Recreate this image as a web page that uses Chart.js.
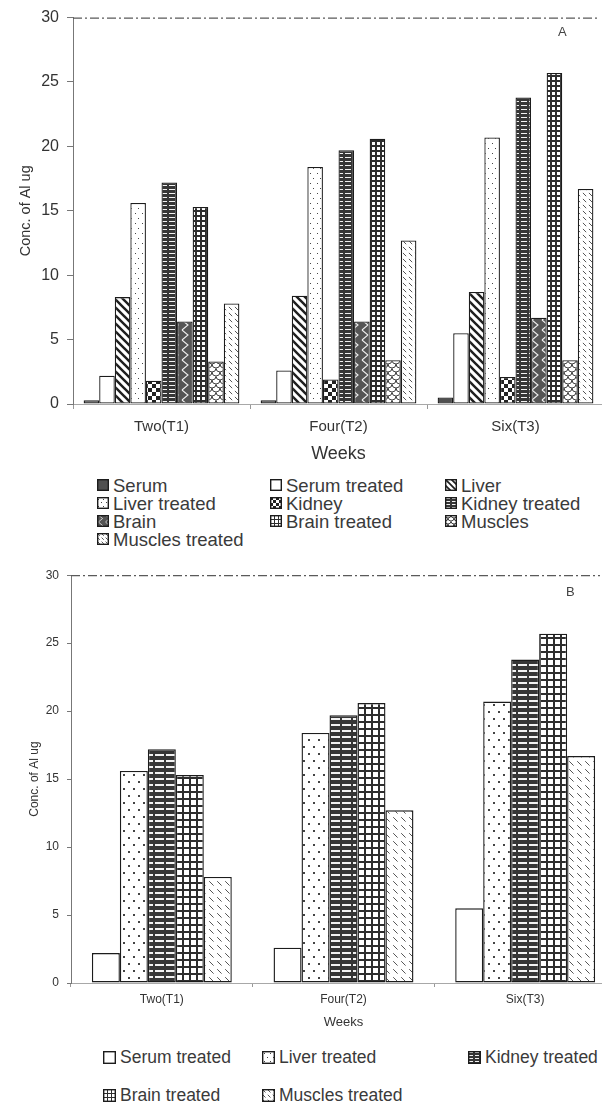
<!DOCTYPE html>
<html>
<head>
<meta charset="utf-8">
<script src="https://cdn.jsdelivr.net/npm/chart.js@4.4.0/dist/chart.umd.min.js"></script>
<style>
  html, body { margin: 0; padding: 0; background: #fff; overflow: hidden; width: 602px; height: 1115px; }
  #wrap { position: relative; width: 602px; height: 1115px; overflow: hidden;
          font-family: "Liberation Sans", Arial, sans-serif; color: #333; }
  .holder { position: absolute; left: 0; }
  .tag { position: absolute; font-size: 13px; color: #444; }
  .leg { position: absolute; white-space: nowrap; display: flex; align-items: center; color: #3a3a3a; }
  .leg canvas { display: block; margin-right: 4px; }
</style>
</head>
<body>
<div id="wrap">
  <div class="holder" style="top:0"><canvas id="chartA" width="606" height="470"></canvas></div>
  <div class="tag" style="left:558px;top:24px">A</div>
  <div id="legendA"></div>
  <div class="holder" style="top:560px"><canvas id="chartB" width="620" height="480"></canvas></div>
  <div class="tag" style="left:566px;top:584px">B</div>
  <div id="legendB"></div>
</div>
<script>
// Weeks of exposure
const weeks = ['Two(T1)', 'Four(T2)', 'Six(T3)'];

// Aluminium concentration (ug) per tissue, control and treated
const serum          = [0.3, 0.3, 0.5];
const serumTreated   = [2.2, 2.6, 5.5];
const liver          = [8.3, 8.4, 8.7];
const liverTreated   = [15.6, 18.4, 20.7];
const kidney         = [1.8, 1.9, 2.1];
const kidneyTreated  = [17.2, 19.7, 23.8];
const brain          = [6.4, 6.4, 6.7];
const brainTreated   = [15.3, 20.6, 25.7];
const muscles        = [3.3, 3.4, 3.4];
const musclesTreated = [7.8, 12.7, 16.7];

// Value axis
const yMin = 0, yMax = 30, yStep = 5;

// ---- fill patterns -------------------------------------------------------
function tile(w, h, draw) {
  const c = document.createElement('canvas');
  c.width = Math.max(1, Math.round(w));
  c.height = Math.max(1, Math.round(h));
  const g = c.getContext('2d');
  draw(g, c.width, c.height);
  return g.createPattern(c, 'repeat');
}

function makeFill(kind, s) {
  switch (kind) {
    case 'solid':
      return '#505050';
    case 'open':
      return '#ffffff';
    case 'diag':
      return tile(8 * s, 8 * s, (g, w, h) => {
        g.fillStyle = '#fff'; g.fillRect(0, 0, w, h);
        g.strokeStyle = '#1e1e1e'; g.lineWidth = 2.4 * s;
        for (let k = -1; k <= 1; k++) {
          g.beginPath(); g.moveTo(-1, k * h - 1); g.lineTo(w + 1, h + k * h + 1); g.stroke();
        }
      });
    case 'dots':
      return tile(7 * s, 10 * s, (g, w, h) => {
        g.fillStyle = '#fff'; g.fillRect(0, 0, w, h);
        g.fillStyle = '#444';
        const d = Math.max(1, Math.round(1.2 * s));
        g.fillRect(Math.round(w * 0.25), Math.round(h * 0.25), d, d);
        g.fillRect(Math.round(w * 0.75), Math.round(h * 0.75), d, d);
      });
    case 'checker':
      return tile(8 * s, 8 * s, (g, w, h) => {
        g.fillStyle = '#fff'; g.fillRect(0, 0, w, h);
        g.fillStyle = '#222';
        g.fillRect(0, 0, w / 2, h / 2); g.fillRect(w / 2, h / 2, w / 2, h / 2);
      });
    case 'hdash':
      return tile(8 * s, 4 * s, (g, w, h) => {
        g.fillStyle = '#363636'; g.fillRect(0, 0, w, h);
        g.fillStyle = '#f2f2f2';
        g.fillRect(1, Math.round(h / 2) - 1, w - 2, Math.max(1, Math.round(1.3 * s)));
      });
    case 'zigzag':
      return tile(10 * s, 10 * s, (g, w, h) => {
        g.fillStyle = '#555'; g.fillRect(0, 0, w, h);
        g.strokeStyle = '#f0f0f0'; g.lineWidth = 1.1 * s;
        g.beginPath(); g.moveTo(w * 0.2, 0); g.lineTo(w * 0.8, h * 0.5); g.lineTo(w * 0.2, h); g.stroke();
      });
    case 'grid':
      return tile(5 * s, 5 * s, (g, w, h) => {
        g.fillStyle = '#fff'; g.fillRect(0, 0, w, h);
        g.fillStyle = '#2e2e2e';
        const t = Math.max(1, Math.round(1.6 * s));
        g.fillRect(0, 0, w, t); g.fillRect(0, 0, t, h);
      });
    case 'scales':
      return tile(8 * s, 8 * s, (g, w, h) => {
        g.fillStyle = '#fff'; g.fillRect(0, 0, w, h);
        g.strokeStyle = '#444'; g.lineWidth = 1;
        g.beginPath(); g.arc(w / 2, 0, w / 2, 0, Math.PI); g.stroke();
        g.beginPath(); g.arc(0, h / 2, w / 2, 0, Math.PI); g.stroke();
        g.beginPath(); g.arc(w, h / 2, w / 2, 0, Math.PI); g.stroke();
      });
    case 'dash':
      return tile(6 * s, 6 * s, (g, w, h) => {
        g.fillStyle = '#fff'; g.fillRect(0, 0, w, h);
        g.strokeStyle = '#555'; g.lineWidth = 1;
        g.beginPath(); g.moveTo(w * 0.15, h * 0.15); g.lineTo(w * 0.7, h * 0.7); g.stroke();
      });
  }
}

// ---- series definitions --------------------------------------------------
const seriesAll = [
  { label: 'Serum',            data: serum,          fill: 'solid'   },
  { label: 'Serum treated',    data: serumTreated,   fill: 'open'    },
  { label: 'Liver',            data: liver,          fill: 'diag'    },
  { label: 'Liver treated',    data: liverTreated,   fill: 'dots'    },
  { label: 'Kidney',           data: kidney,         fill: 'checker' },
  { label: 'Kidney treated',   data: kidneyTreated,  fill: 'hdash'   },
  { label: 'Brain',            data: brain,          fill: 'zigzag'  },
  { label: 'Brain treated',    data: brainTreated,   fill: 'grid'    },
  { label: 'Muscles',          data: muscles,        fill: 'scales'  },
  { label: 'Muscles treated',  data: musclesTreated, fill: 'dash'    }
];
const seriesTreated = seriesAll.filter(d => d.label.endsWith('treated'));

// Dashed top edge of the plot frame
const frameTop = {
  id: 'frameTop',
  afterDraw(chart, args, opts) {
    const { ctx, chartArea } = chart;
    ctx.save();
    ctx.strokeStyle = opts.color;
    ctx.lineWidth = opts.width;
    ctx.setLineDash(opts.dash);
    ctx.beginPath();
    ctx.moveTo(chartArea.left, chartArea.top + 0.5);
    ctx.lineTo(Math.min(chartArea.right, 600), chartArea.top + 0.5);
    ctx.stroke();
    ctx.restore();
  }
};

function buildChart(id, series, cfg) {
  const datasets = series.map(d => ({
    label: d.label,
    data: d.data,
    backgroundColor: makeFill(d.fill, cfg.patScale),
    borderColor: '#1c1c1c',
    borderWidth: cfg.barBorder,
    borderSkipped: false,
    categoryPercentage: cfg.catPct,
    barPercentage: 1
  }));
  return new Chart(document.getElementById(id), {
    type: 'bar',
    data: { labels: weeks, datasets },
    plugins: [frameTop],
    options: {
      responsive: false,
      animation: false,
      events: [],
      layout: { padding: cfg.padding },
      plugins: {
        legend: { display: false },
        tooltip: { enabled: false },
        frameTop: { color: '#5a5a5a', width: 1.2, dash: [9, 3, 2, 3] }
      },
      scales: {
        x: {
          grid: { display: true, drawOnChartArea: false, offset: true, tickLength: cfg.xTick, color: '#999' },
          border: { color: '#a8a8a8', width: 1 },
          ticks: { color: '#333', font: { family: 'Liberation Sans', size: cfg.xTickFont }, padding: cfg.xTickPad, maxRotation: 0 },
          title: { display: true, text: 'Weeks', color: '#333',
                   font: { family: 'Liberation Sans', size: cfg.xTitleFont },
                   padding: { top: 0, bottom: cfg.xTitlePad } },
          afterFit: s => { s.height = cfg.xHeight; }
        },
        y: {
          min: yMin, max: yMax,
          grid: { display: true, drawOnChartArea: false, tickLength: cfg.yTick, color: '#777' },
          border: { color: '#777', width: 1, dash: [5, 2] },
          ticks: { stepSize: yStep, color: '#333', font: { family: 'Liberation Sans', size: cfg.yTickFont }, padding: cfg.yTickPad },
          title: { display: true, text: 'Conc. of Al ug', color: '#333',
                   font: { family: 'Liberation Sans', size: cfg.yTitleFont },
                   padding: { top: cfg.yTitlePad, bottom: 0 } },
          afterFit: s => { s.width = cfg.yWidth; }
        }
      }
    }
  });
}

const chartA = buildChart('chartA', seriesAll, {
  patScale: 1, barBorder: 1.3, catPct: 0.88,
  padding: { left: 10, top: 15, right: 2, bottom: 0 },
  xTick: 5, xTickFont: 15, xTickPad: 9, xTitleFont: 18, xTitlePad: 5, xHeight: 66,
  yTick: 6, yTickFont: 16, yTickPad: 8, yTitleFont: 14.5, yTitlePad: 7, yWidth: 63
});

const chartB = buildChart('chartB', seriesTreated, {
  patScale: 1.4, barBorder: 1.4, catPct: 0.77,
  padding: { left: 20, top: 15, right: 4, bottom: 0 },
  xTick: 4, xTickFont: 12, xTickPad: 5, xTitleFont: 13, xTitlePad: 10, xHeight: 57,
  yTick: 4, yTickFont: 12, yTickPad: 8, yTitleFont: 12, yTitlePad: 7, yWidth: 51
});

// ---- legends laid out in three columns -----------------------------------
function buildLegend(el, series, colX, rowY, font, box, patScale) {
  series.forEach((d, i) => {
    const item = document.createElement('div');
    item.className = 'leg';
    const lh = Math.round(font * 1.05);
    item.style.left = colX[i % 3] + 'px';
    item.style.top = (rowY[Math.floor(i / 3)] - lh / 2) + 'px';
    item.style.height = lh + 'px';
    item.style.fontSize = font + 'px';
    item.style.lineHeight = lh + 'px';
    const sw = document.createElement('canvas');
    sw.width = box; sw.height = box;
    const g = sw.getContext('2d');
    g.fillStyle = makeFill(d.fill, patScale);
    g.fillRect(0, 0, box, box);
    g.strokeStyle = '#1c1c1c'; g.lineWidth = 1.4;
    g.strokeRect(0.7, 0.7, box - 1.4, box - 1.4);
    item.appendChild(sw);
    const t = document.createElement('span');
    t.textContent = d.label;
    item.appendChild(t);
    el.appendChild(item);
  });
}

buildLegend(document.getElementById('legendA'), seriesAll,
            [97, 270, 445], [485, 503, 521, 539], 18.5, 12, 0.7);
buildLegend(document.getElementById('legendB'), seriesTreated,
            [103, 262, 468], [1057, 1095], 17.5, 13, 0.8);
</script>
</body>
</html>
